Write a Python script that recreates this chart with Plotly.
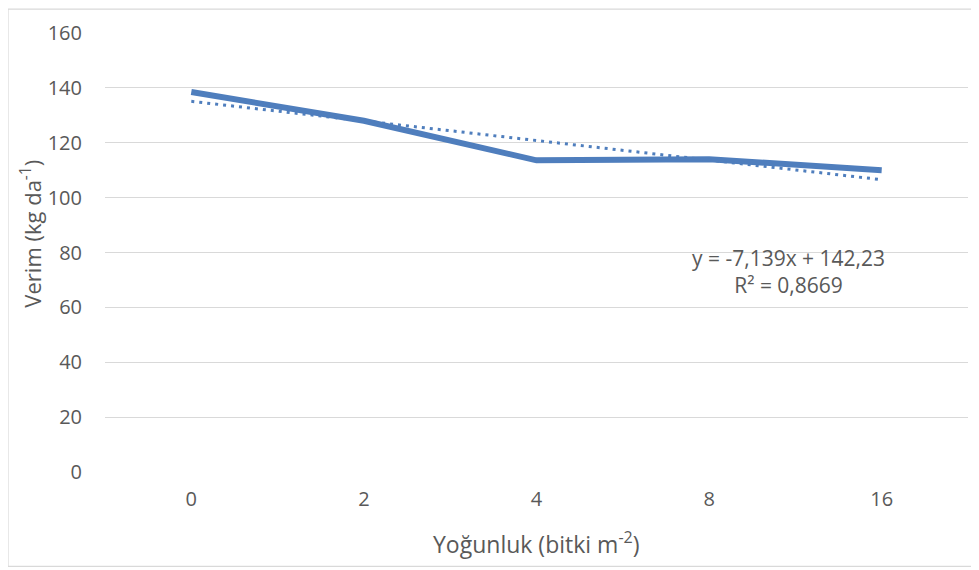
import plotly.graph_objects as go

categories = ["0", "2", "4", "8", "16"]
verim = [138.5, 128.0, 113.6, 114.0, 110.0]
y_ticks = [0, 20, 40, 60, 80, 100, 120, 140, 160]
trend_slope = -7.139
trend_intercept = 142.23
trend_label = "y = -7,139x + 142,23<br>R² = 0,8669"

trend_x = [1, 2, 3, 4, 5]
trend_y = [trend_slope * k + trend_intercept for k in trend_x]

OFF = 8  # default page body margin
W, H = 979 - OFF, 570 - OFF
L, R, T, B = 105 - OFF, 11, 30 - OFF, 98
pw, ph = W - L - R, H - T - B


def px_x(x):
    return (x - OFF - L) / pw


def px_y(y):
    return 1 - (y - OFF - T) / ph


FONT = "Open Sans"
GREY = "#595959"
BLUE = "#4F7EBD"

fig = go.Figure()
fig.add_trace(go.Scatter(
    x=[i for i in range(len(categories))], y=verim, mode="lines",
    line=dict(color=BLUE, width=6), showlegend=False, hoverinfo="skip"))
fig.add_trace(go.Scatter(
    x=[k - 1 for k in trend_x], y=trend_y, mode="lines",
    line=dict(color=BLUE, width=3, dash="3px,5px"), showlegend=False, hoverinfo="skip"))

fig.update_layout(
    width=W, height=H,
    margin=dict(l=L, r=R, t=T, b=B),
    paper_bgcolor="white", plot_bgcolor="white",
    font=dict(family=FONT, color=GREY, size=20),
    xaxis=dict(range=[-0.5, 4.5], tickmode="array",
               tickvals=list(range(len(categories))), ticktext=categories,
               showgrid=False, zeroline=False, showline=False,
               ticks="", ticklabelstandoff=13, tickfont=dict(size=20, color=GREY)),
    yaxis=dict(range=[0, 160], tickmode="array", tickvals=y_ticks,
               showgrid=True, gridcolor="#D9D9D9", gridwidth=1.3,
               zeroline=False, showline=False, ticks="",
               ticklabelstandoff=22, tickfont=dict(size=20, color=GREY)),
    shapes=[dict(type="rect", xref="paper", yref="paper",
                 x0=px_x(8), x1=px_x(977),
                 y0=px_y(567), y1=px_y(6),
                 line=dict(color="#D9D9D9", width=1.2), fillcolor="rgba(0,0,0,0)",
                 layer="below")],
    annotations=[
        dict(text=trend_label, xref="paper", yref="paper",
             x=px_x(788), y=px_y(270), xanchor="center", yanchor="middle",
             showarrow=False, font=dict(size=21, color=GREY), align="center"),
        dict(text="Verim (kg da<sup>-1</sup>)", xref="paper", yref="paper",
             x=px_x(31), y=px_y(232), xanchor="center", yanchor="middle",
             textangle=-90, showarrow=False, font=dict(size=22, color=GREY)),
        dict(text="Yoğunluk (bitki m<sup>-2</sup>)", xref="paper", yref="paper",
             x=px_x(536), y=px_y(543), xanchor="center", yanchor="middle",
             showarrow=False, font=dict(size=23, color=GREY)),
    ],
)

fig.write_html("out.html")
